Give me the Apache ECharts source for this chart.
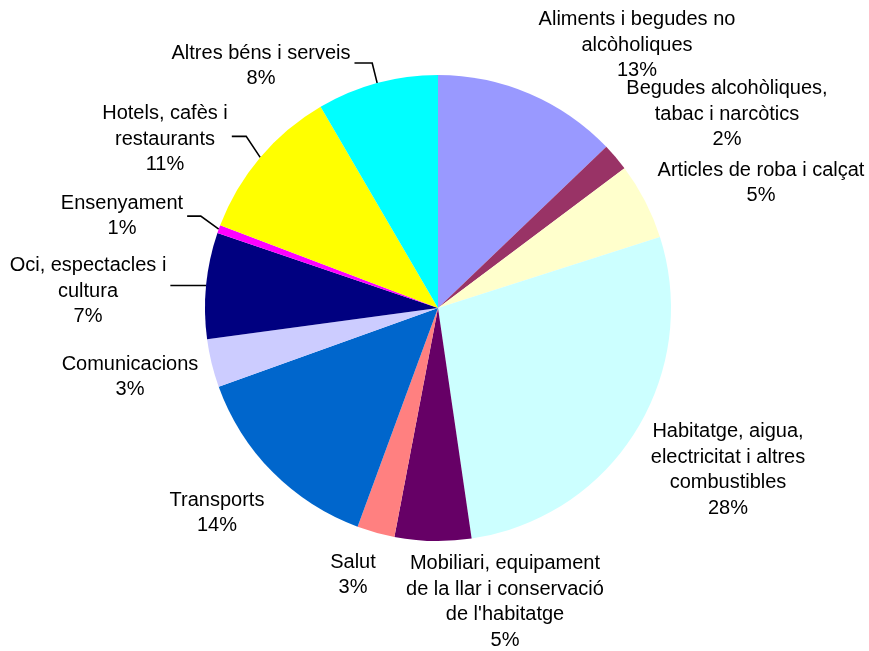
<!DOCTYPE html>
<html><head><meta charset="utf-8">
<script src="https://cdn.jsdelivr.net/npm/echarts@6/dist/echarts.min.js"></script>
<style>html,body{margin:0;padding:0;background:#fff}#chart{width:869px;height:651px}</style>
</head><body><div id="chart"></div>
<script>
// ---- data ----
const categories = [
  "Aliments i begudes no\nalcòholiques",
  "Begudes alcohòliques,\ntabac i narcòtics",
  "Articles de roba i calçat",
  "Habitatge, aigua,\nelectricitat i altres\ncombustibles",
  "Mobiliari, equipament\nde la llar i conservació\nde l'habitatge",
  "Salut",
  "Transports",
  "Comunicacions",
  "Oci, espectacles i\ncultura",
  "Ensenyament",
  "Hotels, cafès i\nrestaurants",
  "Altres béns i serveis"
];
const values = [12.84, 1.92, 5.31, 27.6, 5.3, 2.61, 13.9, 3.35, 7.35, 0.55, 10.82, 8.4];
const colors = ["#9999FF", "#993366", "#FFFFCC", "#CCFFFF", "#660066", "#FF8080",
                "#0066CC", "#CCCCFF", "#000080", "#FF00FF", "#FFFF00", "#00FFFF"];

// ---- layout (not data) ----
const CX = 438, CY = 308, R = 233;
const labelCenters = [
  [637, 45], [727, 114], [761, 183], [728, 470], [505, 602], [353, 575],
  [217, 513], [130, 377], [88, 291], [122, 216], [165, 139], [261, 66]
];
// leader line bend offset from the slice edge: null = none, [0,0] = straight horizontal
const leaders = [null, null, null, null, null, null, null, null,
                 [0, 0], [-18, -13], [-14, -21], [-5, -20]];

const total = values.reduce((a, b) => a + b, 0);
const midAngles = [];
let acc = 0;
values.forEach(v => { midAngles.push((acc + v / 2) / total * 2 * Math.PI); acc += v; });

const chart = echarts.init(document.getElementById('chart'), null, {renderer: 'canvas'});
chart.setOption({
  backgroundColor: '#ffffff',
  animation: false,
  series: [{
    type: 'pie',
    center: [CX, CY],
    radius: R,
    startAngle: 90,
    clockwise: true,
    avoidLabelOverlap: false,
    itemStyle: { borderWidth: 0 },
    emphasis: { disabled: true },
    data: categories.map((c, i) => ({
      name: c,
      value: values[i],
      itemStyle: { color: colors[i] },
      labelLine: { show: leaders[i] !== null }
    })),
    label: {
      show: true,
      position: 'outside',
      fontFamily: 'Liberation Sans, Arial, sans-serif',
      fontSize: 20,
      lineHeight: 25.5,
      color: '#000',
      align: 'center',
      formatter: p => p.name + '\n' + Math.round(p.percent) + '%'
    },
    labelLine: {
      lineStyle: { color: '#000', width: 1.6 }
    },
    labelLayout: function (params) {
      const i = params.dataIndex;
      const c = labelCenters[i];
      const res = { x: c[0], y: c[1], align: 'center', verticalAlign: 'middle' };
      const L = leaders[i];
      if (L !== null) {
        const a = midAngles[i];
        const ux = Math.sin(a), uy = -Math.cos(a);
        const p0 = [CX + R * ux, CY + R * uy];
        const endX = c[0] + params.labelRect.width / 2 + 4;
        const p1 = [p0[0] + L[0], p0[1] + L[1]];
        if (L[0] === 0 && L[1] === 0) p1[0] = (p0[0] + endX) / 2;
        res.labelLinePoints = [p0, p1, [endX, p1[1]]];
      }
      return res;
    }
  }]
});
</script>
</body></html>
